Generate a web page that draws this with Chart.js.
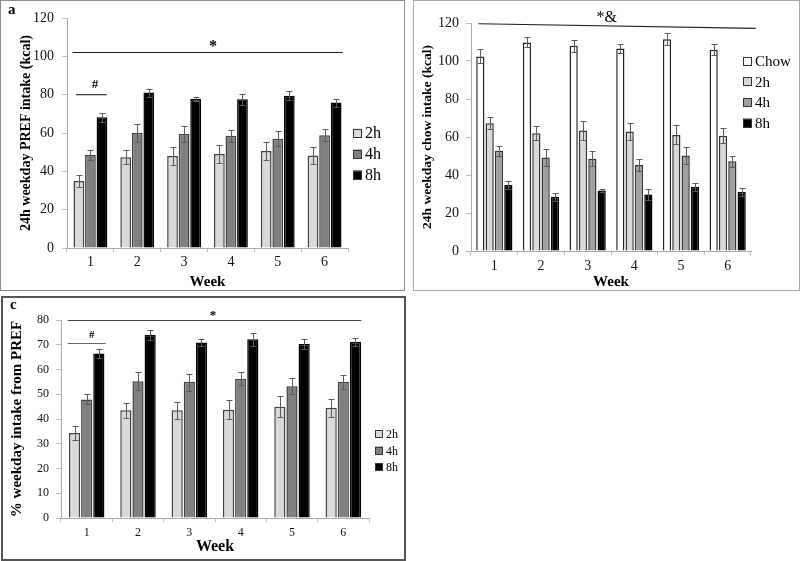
<!DOCTYPE html>
<html>
<head>
<meta charset="utf-8">
<script src="https://cdn.jsdelivr.net/npm/chart.js@4.4.1/dist/chart.umd.min.js"></script>
<style>
  body { margin: 0; background: #fff; width: 800px; height: 561px; position: relative; overflow: hidden; }
  canvas { position: absolute; }
  .frame { position: absolute; box-sizing: border-box; pointer-events: none; }
  .tag { position: absolute; font: bold 15px "Liberation Serif", serif; }
</style>
</head>
<body>
<canvas id="chartA" width="405" height="291" style="left:0;top:0"></canvas>
<canvas id="chartB" width="387" height="291" style="left:413px;top:0"></canvas>
<canvas id="chartC" width="406" height="264" style="left:0;top:297px"></canvas>
<div class="frame" style="left:0;top:0;width:405px;height:291px;border:1px solid #8c8c8c"></div>
<div class="frame" style="left:413px;top:0;width:387px;height:291px;border:1px solid #a8a8a8"></div>
<div class="frame" style="left:1px;top:296px;width:405px;height:265px;border:2px solid #555"></div>
<div class="tag" style="left:8px;top:1px">a</div>
<div class="tag" style="left:10px;top:296px">c</div>
<script>
// categories
const weeks = ['1', '2', '3', '4', '5', '6'];

// panel a: 24h weekday PREF intake (kcal)
const pref2h = [34.9, 47.3, 48.0, 49.0, 50.6, 48.3];
const pref2hErr = [3.0, 3.6, 4.8, 4.7, 4.9, 4.4];
const pref4h = [48.5, 60.0, 59.5, 58.6, 57.0, 58.8];
const pref4hErr = [2.6, 4.5, 4.0, 3.1, 3.8, 3.1];
const pref8h = [68.2, 81.1, 77.8, 77.6, 79.5, 75.9];
const pref8hErr = [2.3, 2.1, 1.2, 2.8, 2.3, 2.1];

// panel b: 24h weekday chow intake (kcal)
const chowChow = [102.4, 109.8, 108.0, 106.6, 111.5, 105.9];
const chowChowErr = [3.7, 2.6, 3.0, 2.3, 3.2, 3.0];
const chow2h = [67.3, 62.0, 63.4, 62.9, 61.1, 60.6];
const chow2hErr = [3.0, 3.6, 5.0, 4.6, 5.0, 3.9];
const chow4h = [52.7, 49.2, 48.5, 45.3, 50.2, 47.2];
const chow4hErr = [2.8, 4.5, 4.0, 3.2, 4.6, 3.0];
const chow8h = [34.7, 28.5, 31.9, 29.8, 33.7, 31.0];
const chow8hErr = [2.3, 2.0, 0.9, 3.0, 2.1, 2.1];

// panel c: % weekday intake from PREF
const pct2h = [34.3, 43.5, 43.5, 43.7, 45.0, 44.5];
const pct2hErr = [2.7, 3.1, 3.5, 3.8, 4.3, 3.5];
const pct4h = [47.9, 55.3, 54.9, 56.2, 53.2, 55.0];
const pct4hErr = [2.0, 3.7, 3.4, 2.6, 3.2, 2.8];
const pct8h = [66.5, 74.0, 70.9, 72.2, 70.3, 71.1];
const pct8hErr = [1.7, 1.9, 1.3, 2.6, 2.0, 1.7];

const serif = '"Liberation Serif", "Times New Roman", serif';

// whiskers for +/- SEM
const errorBars = {
    id: 'errorBars',
    afterDatasetsDraw(chart) {
        const ctx = chart.ctx;
        const ys = chart.scales.y;
        ctx.save();
        ctx.strokeStyle = '#5a5a5a';
        ctx.lineWidth = 1;
        chart.data.datasets.forEach((ds, i) => {
            chart.getDatasetMeta(i).data.forEach((bar, j) => {
                const v = ds.data[j], e = ds.errors[j];
                const top = Math.round(ys.getPixelForValue(v + e)) + 0.5;
                const bot = Math.round(ys.getPixelForValue(v - e)) + 0.5;
                const x = Math.round(bar.x) + 0.5;
                ctx.beginPath();
                ctx.moveTo(x, top); ctx.lineTo(x, bot);
                ctx.moveTo(x - 3, top); ctx.lineTo(x + 3, top);
                ctx.moveTo(x - 3, bot); ctx.lineTo(x + 3, bot);
                ctx.stroke();
            });
        });
        ctx.restore();
    }
};

// legend on the right, drawn from the dataset labels/colours
const sideLegend = {
    id: 'sideLegend',
    afterDraw(chart, args, o) {
        const ctx = chart.ctx;
        ctx.save();
        ctx.font = o.size + 'px ' + serif;
        ctx.textBaseline = 'middle';
        chart.data.datasets.forEach((ds, i) => {
            const cy = o.y + i * o.gap;
            ctx.fillStyle = ds.backgroundColor;
            ctx.fillRect(o.x, cy - o.box / 2, o.box, o.box);
            ctx.strokeStyle = '#333';
            ctx.lineWidth = 1;
            ctx.strokeRect(o.x + 0.5, Math.round(cy - o.box / 2) + 0.5, o.box - 1, o.box - 1);
            ctx.fillStyle = '#000';
            ctx.fillText(ds.label, o.x + o.box + 3, cy + 1);
        });
        ctx.restore();
    }
};

// significance lines with their symbols
const sigMarks = {
    id: 'sigMarks',
    afterDraw(chart, args, o) {
        const ctx = chart.ctx;
        const xs = chart.scales.x, ys = chart.scales.y;
        ctx.save();
        o.lines.forEach(l => {
            ctx.strokeStyle = l.color;
            ctx.lineWidth = 1.2;
            ctx.beginPath();
            ctx.moveTo(xs.getPixelForValue(l.x0), ys.getPixelForValue(l.y0));
            ctx.lineTo(xs.getPixelForValue(l.x1), ys.getPixelForValue(l.y1));
            ctx.stroke();
            const t = (l.tx - l.x0) / (l.x1 - l.x0);
            ctx.fillStyle = '#000';
            ctx.font = l.font + ' ' + serif;
            ctx.textAlign = 'center';
            ctx.textBaseline = 'alphabetic';
            ctx.fillText(l.text, xs.getPixelForValue(l.tx), ys.getPixelForValue(l.y0 + (l.y1 - l.y0) * t) - l.dy);
        });
        ctx.restore();
    }
};

function bars(label, data, errors, fill, border) {
    return { label, data, errors, backgroundColor: fill, borderColor: border, borderWidth: 1.5 };
}

function makePanel(id, p) {
    return new Chart(document.getElementById(id), {
        type: 'bar',
        data: { labels: weeks, datasets: p.datasets },
        options: {
            responsive: false,
            animation: false,
            events: [],
            categoryPercentage: p.catPct,
            barPercentage: p.barPct,
            layout: { padding: { left: 0, bottom: 0, top: p.area.top, right: p.W - p.area.right } },
            plugins: {
                legend: { display: false },
                tooltip: { enabled: false },
                sideLegend: p.legend,
                sigMarks: { lines: p.marks }
            },
            scales: {
                x: {
                    afterFit(s) { s.height = p.H - p.area.bottom; },
                    grid: { display: true, drawOnChartArea: false, tickLength: 4, color: '#bbb', offset: true },
                    border: { color: '#aaa' },
                    ticks: { color: '#111', padding: p.xPad, font: { family: serif, size: p.tick } },
                    title: { display: true, text: 'Week', color: '#000', padding: { top: 0, bottom: p.xTitleBottom },
                        font: { family: serif, size: p.xTitle, weight: 'bold' } }
                },
                y: {
                    min: 0, max: p.max,
                    afterFit(s) { s.width = p.area.left; },
                    grid: { display: true, drawOnChartArea: false, tickLength: 5, color: '#bbb' },
                    border: { color: '#aaa' },
                    ticks: { stepSize: p.step, color: '#111', padding: p.yPad, font: { family: serif, size: p.tick } },
                    title: { display: true, text: p.yLabel, color: '#000', padding: { top: p.yTitleTop, bottom: 0 },
                        font: { family: serif, size: p.yTitle, weight: 'bold' } }
                }
            }
        },
        plugins: [errorBars, sideLegend, sigMarks]
    });
}

makePanel('chartA', {
    W: 405, H: 291, area: { left: 67, right: 348, top: 18, bottom: 248 },
    max: 120, step: 20, tick: 14, yPad: 8, xPad: 2,
    yLabel: '24h weekday PREF intake (kcal)', yTitle: 14, yTitleTop: 18, xTitle: 15, xTitleBottom: 0,
    catPct: 0.74, barPct: 0.93,
    datasets: [
        bars('2h', pref2h, pref2hErr, '#d9d9d9', '#404040'),
        bars('4h', pref4h, pref4hErr, '#808080', '#404040'),
        bars('8h', pref8h, pref8hErr, '#000000', '#000000')
    ],
    legend: { x: 353, y: 133, gap: 21, box: 9, size: 16 },
    marks: [
        { x0: -0.38, x1: 5.39, y0: 102, y1: 102, tx: 2.62, text: '*', font: 'bold 16px', dy: 2, color: '#222' },
        { x0: -0.31, x1: 0.35, y0: 80, y1: 80, tx: 0.1, text: '#', font: 'bold 13px', dy: 7, color: '#333' }
    ]
});

makePanel('chartB', {
    W: 387, H: 291, area: { left: 58, right: 338, top: 23, bottom: 251 },
    max: 120, step: 20, tick: 14, yPad: 7, xPad: 3,
    yLabel: '24h weekday chow intake (kcal)', yTitle: 13.5, yTitleTop: 6, xTitle: 15, xTitleBottom: 0,
    catPct: 0.8, barPct: 0.88,
    datasets: [
        bars('Chow', chowChow, chowChowErr, '#ffffff', '#222222'),
        bars('2h', chow2h, chow2hErr, '#d9d9d9', '#333333'),
        bars('4h', chow4h, chow4hErr, '#a0a0a0', '#333333'),
        bars('8h', chow8h, chow8hErr, '#000000', '#000000')
    ],
    legend: { x: 330, y: 61, gap: 20.7, box: 9, size: 15 },
    marks: [
        { x0: -0.34, x1: 5.6, y0: 119.6, y1: 117.2, tx: 2.41, text: '*&', font: '16px', dy: 4, color: '#222' }
    ]
});

makePanel('chartC', {
    W: 406, H: 264, area: { left: 61, right: 369, top: 23, bottom: 221 },
    max: 80, step: 10, tick: 12, yPad: 7, xPad: 4,
    yLabel: '% weekday intake from PREF', yTitle: 15, yTitleTop: 8, xTitle: 16, xTitleBottom: 5,
    catPct: 0.71, barPct: 0.92,
    datasets: [
        bars('2h', pct2h, pct2hErr, '#d9d9d9', '#404040'),
        bars('4h', pct4h, pct4hErr, '#808080', '#404040'),
        bars('8h', pct8h, pct8hErr, '#000000', '#000000')
    ],
    legend: { x: 375, y: 137, gap: 16.5, box: 8, size: 12 },
    marks: [
        { x0: -0.37, x1: 5.35, y0: 79.8, y1: 79.8, tx: 2.46, text: '*', font: 'bold 13px', dy: 1, color: '#444' },
        { x0: -0.37, x1: 0.37, y0: 70.5, y1: 70.5, tx: 0.1, text: '#', font: 'bold 11px', dy: 6, color: '#666' }
    ]
});
</script>
</body>
</html>
